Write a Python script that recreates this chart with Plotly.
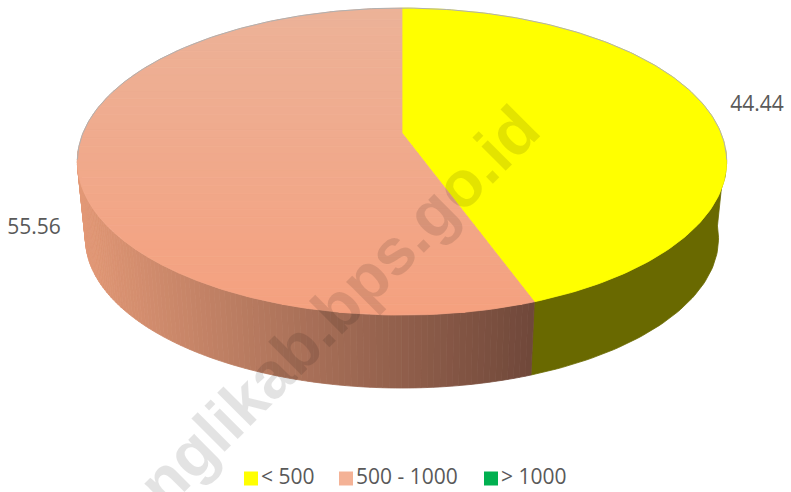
import numpy as np
import plotly.graph_objects as go

# ---- data ----
categories = ["< 500", "500 - 1000", "> 1000"]
values = [44.44, 55.56, 0]
label_text = ["44.44", "55.56"]
face_colors = ["#ffff00", "#f4b296", "#00b050"]

# ---- drawing style (pixel-based canvas) ----
W, H = 791, 492
CX, APEX_Y = 402, 133
A, B, K = 319.0, 148.2, 0.186
LOWER_SCALE, LOWER_DY = 0.975, 77.5
TEXT_GREY = "#595959"
FONT = "Open Sans"


def project(theta, scale=1.0, dy=0.0):
    """Perspective projection of the unit disc; theta clockwise from 12 o'clock, in degrees."""
    t = np.radians(theta)
    X, Y = np.sin(t), np.cos(t)
    w = 1 + K * Y
    return CX + scale * A * X / w, APEX_Y + dy - scale * B * Y / w


def mix(c0, c1, f):
    r = [c0[i] + (c1[i] - c0[i]) * f for i in range(3)]
    return "rgb(%d,%d,%d)" % tuple(round(v) for v in r)


def clip_band(poly, y0, y1):
    def clip(pts, keep, cross):
        out = []
        for i in range(len(pts)):
            a, b = pts[i - 1], pts[i]
            if keep(b):
                if not keep(a):
                    out.append(cross(a, b))
                out.append(b)
            elif keep(a):
                out.append(cross(a, b))
        return out

    def at(yv):
        return lambda a, b: (a[0] + (b[0] - a[0]) * (yv - a[1]) / (b[1] - a[1]), yv)

    pts = clip(poly, lambda p: p[1] >= y0, at(y0))
    if pts:
        pts = clip(pts, lambda p: p[1] <= y1, at(y1))
    return pts


fig = go.Figure()


def add_poly(xs, ys, color):
    fig.add_trace(go.Scatter(
        x=list(xs), y=list(ys), mode="lines", fill="toself", fillcolor=color,
        line=dict(color=color, width=0.8), hoverinfo="skip", showlegend=False))


# slice boundaries from the values
total = sum(values)
edges = np.cumsum([0] + values) / total * 360.0

# side wall: first slice is one flat olive band, second is shaded left to right
t_side = np.linspace(max(edges[0], 96), min(edges[1], 264), 60)
ux, uy = project(t_side)
lx, ly = project(t_side[::-1], LOWER_SCALE, LOWER_DY)
add_poly(np.r_[ux, lx, ux[0]], np.r_[uy, ly, uy[0]], "rgb(105,105,0)")

steps = np.linspace(max(edges[1], 96), min(edges[2], 264), 110)
for t0, t1 in zip(steps[:-1], steps[1:]):
    x0, y0 = project(t0)
    x1, y1 = project(t1)
    x2, y2 = project(t1, LOWER_SCALE, LOWER_DY)
    x3, y3 = project(t0, LOWER_SCALE, LOWER_DY)
    shade = mix((112, 72, 58), (226, 152, 118),
                min(1.0, (project((t0 + t1) / 2)[0] - 533) / (77 - 533)))
    add_poly([x0, x1, x2, x3, x0], [y0, y1, y2, y3, y0], shade)

# top faces
for i in range(2):
    th = np.linspace(edges[i], edges[i + 1], 160)
    px, py = project(th)
    poly = [(CX, APEX_Y)] + list(zip(px, py))
    if i == 0:
        xs, ys = zip(*(poly + poly[:1]))
        add_poly(xs, ys, face_colors[0])
    else:
        bands = np.linspace(4, 320, 41)
        for y0, y1 in zip(bands[:-1], bands[1:]):
            pts = clip_band(poly, y0, y1)
            if len(pts) > 2:
                xs, ys = zip(*(pts + pts[:1]))
                add_poly(xs, ys, mix((236, 178, 152), (245, 160, 126), (y0 - 4) / 316))

# grey rim round the back of the pie
rim = np.linspace(-100, 100, 200)
rx, ry = project(rim)
fig.add_trace(go.Scatter(x=rx, y=ry, mode="lines", line=dict(color="#b0b0b0", width=1),
                         hoverinfo="skip", showlegend=False))

# data labels
fig.add_trace(go.Scatter(
    x=[757, 34], y=[106, 229], mode="text", text=label_text,
    textfont=dict(family=FONT, size=21, color=TEXT_GREY), textposition="middle center",
    hoverinfo="skip", showlegend=False))

# legend row
leg_x = [251, 346, 491]
leg_colors = ["#ffff00", "#f4b296", "#00b050"]
fig.add_trace(go.Scatter(
    x=leg_x, y=[478.5] * 3, mode="markers",
    marker=dict(symbol="square", size=14, color=leg_colors),
    hoverinfo="skip", showlegend=False))
fig.add_trace(go.Scatter(
    x=[x + 10 for x in leg_x], y=[478.5] * 3, mode="text",
    text=categories, textposition="middle right",
    textfont=dict(family=FONT, size=21, color=TEXT_GREY),
    hoverinfo="skip", showlegend=False))

fig.add_annotation(
    x=338, y=306, xref="x", yref="y", text="<b>nglikab.bps.go.id</b>", showarrow=False,
    textangle=-45, font=dict(family="Liberation Sans", size=65, color="rgba(0,0,0,0.11)"))

fig.update_layout(
    width=W, height=H, margin=dict(l=0, r=0, t=0, b=0),
    paper_bgcolor="white", plot_bgcolor="white", showlegend=False,
    xaxis=dict(range=[0, W], visible=False, fixedrange=True),
    yaxis=dict(range=[H, 0], visible=False, fixedrange=True),
)
fig.write_html("out.html", post_script="document.body.style.margin='0';", config={"displayModeBar": False})
